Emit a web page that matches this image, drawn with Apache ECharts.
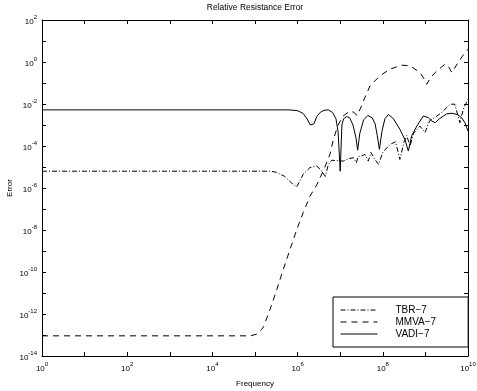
<!DOCTYPE html>
<html>
<head>
<meta charset="utf-8">
<script src="https://cdn.jsdelivr.net/npm/echarts@6/dist/echarts.min.js"></script>
<style>
  html, body { margin: 0; padding: 0; background: #fff; }
  #chart { width: 477px; height: 391px; }
</style>
</head>
<body>
<div id="chart"></div>
<script>
// values are read as powers of ten: [log10(frequency), log10(error)]
const seriesNames = ['TBR\u22127', 'MMVA\u22127', 'VADI\u22127'];

const tbr = [
  [0, -5.2], [5.35, -5.2], [5.5, -5.25], [5.7, -5.45], [5.85, -5.75], [5.98, -5.95],
  [6.02, -6.0], [6.13, -5.35], [6.29, -5.03], [6.45, -4.95], [6.55, -5.15], [6.65, -5.45],
  [6.72, -4.9], [6.8, -4.68], [6.95, -4.7], [7.07, -4.72], [7.2, -4.6], [7.31, -4.56],
  [7.38, -4.8], [7.42, -4.5], [7.5, -4.48], [7.58, -4.4], [7.66, -4.72], [7.72, -4.3],
  [7.8, -4.6], [7.9, -4.88], [8.0, -4.3], [8.17, -3.92], [8.3, -3.8], [8.4, -4.64],
  [8.5, -3.8], [8.56, -3.5], [8.64, -4.0], [8.72, -3.4], [8.87, -3.05], [8.99, -3.36],
  [9.1, -2.8], [9.25, -2.6], [9.38, -2.41], [9.58, -2.01], [9.69, -2.01], [9.81, -2.89],
  [9.89, -2.25], [10, -1.77]
];

const mmva = [
  [0, -13.04], [4.9, -13.04], [5.05, -12.95], [5.15, -12.75], [5.2, -12.6], [5.35, -11.8],
  [5.51, -10.85], [5.66, -9.9], [5.82, -8.94], [5.98, -7.98], [6.13, -7.18], [6.29, -6.39],
  [6.45, -5.85], [6.6, -5.2], [6.76, -4.4], [6.84, -3.68], [6.95, -3.0], [7.07, -2.57],
  [7.23, -2.33], [7.32, -2.4], [7.4, -2.55], [7.5, -2.09], [7.58, -1.69], [7.7, -1.14],
  [7.93, -0.66], [8.17, -0.34], [8.44, -0.15], [8.64, -0.18], [8.87, -0.5], [8.97, -0.8],
  [9.03, -1.06], [9.12, -0.75], [9.23, -0.5], [9.46, -0.1], [9.55, -0.25], [9.62, -0.5],
  [9.77, -0.02], [9.93, 0.46], [10, 0.6]
];

const vadi = [
  [0, -2.28], [5.8, -2.28], [6.0, -2.32], [6.13, -2.45], [6.22, -2.7], [6.3, -3.0],
  [6.33, -3.05], [6.38, -2.95], [6.45, -2.6], [6.53, -2.4], [6.62, -2.3], [6.72, -2.28],
  [6.82, -2.4], [6.9, -2.7], [6.95, -3.3], [7.0, -5.2], [7.04, -3.0], [7.08, -2.7],
  [7.15, -2.6], [7.22, -2.65], [7.3, -3.0], [7.37, -3.6], [7.41, -4.2], [7.46, -3.4],
  [7.55, -2.75], [7.65, -2.55], [7.75, -2.65], [7.82, -2.95], [7.87, -3.5], [7.92, -4.16],
  [7.98, -3.3], [8.05, -2.7], [8.13, -2.5], [8.25, -2.7], [8.4, -3.2], [8.52, -3.7],
  [8.6, -4.24], [8.68, -3.5], [8.8, -3.05], [8.95, -2.57], [9.07, -2.65], [9.15, -2.81],
  [9.23, -2.89], [9.33, -2.7], [9.5, -2.47], [9.62, -2.44], [9.75, -2.5], [9.85, -2.65],
  [9.93, -2.9], [10, -3.29]
];

const FONT = '"Liberation Sans", Arial, sans-serif';

function powLabel(v) {
  if (v % 2 !== 0) return '';
  return '{b|10}{e|' + String(v) + '}';
}

const labelRich = {
  b: { fontSize: 8, fontFamily: FONT, color: '#000', padding: [4, 0, 0, 0] },
  e: { fontSize: 6, fontFamily: FONT, color: '#000', verticalAlign: 'top' }
};

function axisBase(extra) {
  return Object.assign({
    type: 'value',
    interval: 1,
    axisLine: { show: true, onZero: false, lineStyle: { color: '#000', width: 1 } },
    axisTick: { show: true, inside: true, length: 4, lineStyle: { color: '#000' } },
    splitLine: { show: false }
  }, extra);
}

const chart = echarts.init(document.getElementById('chart'), null, { renderer: 'canvas' });

chart.setOption({
  animation: false,
  backgroundColor: '#fff',
  textStyle: { fontFamily: FONT },
  grid: { left: 42, right: 9, top: 20, bottom: 35, containLabel: false, outerBoundsMode: 'none' },
  graphic: [{
    type: 'text', x: 255, y: 3,
    style: { text: 'Relative Resistance Error', font: '8.5px ' + FONT, fill: '#000', align: 'center' }
  }],
  legend: {
    orient: 'vertical',
    left: 333, top: 297,
    padding: [8, 32, 8, 7],
    itemWidth: 37, itemHeight: 10, itemGap: 2,
    backgroundColor: '#fff',
    borderColor: '#000', borderWidth: 1,
    itemStyle: { opacity: 0 },
    lineStyle: { width: 1, color: '#000', type: 'inherit' },
    textStyle: { fontSize: 10, color: '#000', fontFamily: FONT, padding: [0, 0, 0, 13] },
    data: seriesNames
  },
  xAxis: [
    axisBase({
      min: 0, max: 10, position: 'bottom',
      name: 'Frequency', nameLocation: 'middle', nameGap: 24, nameMoveOverlap: false,
      nameTextStyle: { fontSize: 8, color: '#000', fontFamily: FONT },
      axisLabel: { margin: 5, formatter: powLabel, rich: labelRich }
    }),
    axisBase({ min: 0, max: 10, position: 'top', axisLabel: { show: false } })
  ],
  yAxis: [
    axisBase({
      min: -14, max: 2, position: 'left',
      name: 'Error', nameLocation: 'middle', nameGap: 28, nameMoveOverlap: false,
      nameTextStyle: { fontSize: 8, color: '#000', fontFamily: FONT },
      axisLabel: { margin: 5, formatter: powLabel, rich: labelRich }
    }),
    axisBase({ min: -14, max: 2, position: 'right', axisLabel: { show: false } })
  ],
  series: [
    {
      name: seriesNames[0], type: 'line', data: tbr, symbol: 'none',
      lineStyle: { color: '#000', width: 1, type: [5, 2, 1, 2] }, itemStyle: { color: '#000' }
    },
    {
      name: seriesNames[1], type: 'line', data: mmva, symbol: 'none',
      lineStyle: { color: '#000', width: 1, type: [6, 5] }, itemStyle: { color: '#000' }
    },
    {
      name: seriesNames[2], type: 'line', data: vadi, symbol: 'none',
      lineStyle: { color: '#000', width: 1, type: 'solid' }, itemStyle: { color: '#000' }
    }
  ]
});
</script>
</body>
</html>
